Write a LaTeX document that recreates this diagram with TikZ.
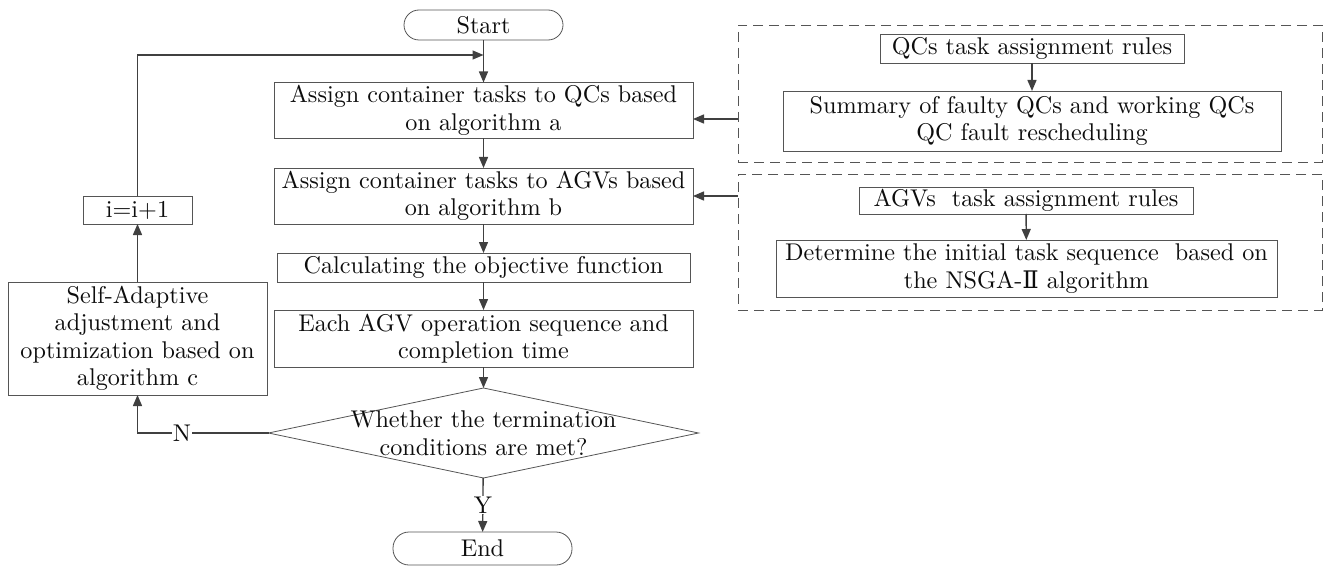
\documentclass[tikz,border=0pt]{standalone}
\usepackage{fontspec}
\usetikzlibrary{arrows.meta,shapes.geometric,calc}
\setmainfont{lmroman10-regular.otf}
\newfontfamily\romfont{DejaVu Serif}
\definecolor{linegray}{RGB}{64,64,64}
\definecolor{boxgray}{RGB}{85,85,85}
\tikzset{every picture/.style={line width=0.75pt}}
\tikzset{
  txt/.style={font=\fontsize{24.2}{27.5}\selectfont, text=black!95, align=center},
  proc/.style={txt, draw=boxgray, line width=0.8pt, inner sep=0pt, outer sep=0pt},
  term/.style={proc, rounded corners=15pt},
  decide/.style={diamond, draw=boxgray, line width=0.8pt, inner sep=0pt, outer sep=0pt, minimum width=430pt, minimum height=90pt},
  dashbox/.style={draw=boxgray, line width=0.9pt, dash pattern=on 10pt off 6pt, inner sep=0pt, outer sep=0pt},
  arr/.style={draw=linegray, line width=1.4pt, -{Triangle[length=11pt,width=9pt]}},
  lbl/.style={txt, fill=white, inner sep=1pt}
}

\begin{document}
\begin{tikzpicture}[x=1pt,y=1pt,yscale=-1]
	\useasboundingbox (0,0) rectangle (1325,567);
	
	% main column
	\node[term, minimum width=159pt, minimum height=30pt] (start) at (483.5,25) {Start};
	\node[proc, minimum width=419pt, minimum height=56pt] (qcs) at (483.5,110.5) {Assign container tasks to QCs based\\on algorithm a};
	\node[proc, minimum width=419pt, minimum height=56pt] (agvs) at (483.5,196) {Assign container tasks to AGVs based\\on algorithm b};
	\node[proc, minimum width=413pt, minimum height=29pt] (obj) at (483.5,267.5) {Calculating the objective function};
	\node[proc, minimum width=419pt, minimum height=57pt] (seq) at (483.5,338.5) {Each AGV operation sequence and\\completion time};
	\node[decide] (cond) at (483.5,433) {};
	\node[txt] (condtext) at (cond.center) {Whether the termination\\conditions are met?};
	\node[term, minimum width=179pt, minimum height=33pt, rounded corners=16pt] (end) at (482.5,548.5) {End};
	
	% loop on the left
	\node[proc, minimum width=109pt, minimum height=28pt] (inc) at (137.5,210) {i=i+1};
	\node[proc, minimum width=259pt, minimum height=113pt] (adapt) at (137.5,338.5) {Self-Adaptive\\adjustment and\\optimization based on\\algorithm c};
	\coordinate (back) at (483.5,55);
	
	% rule blocks on the right
	\node[dashbox, minimum width=584pt, minimum height=137pt] (qcrule) at (1030,93.5) {};
	\node[dashbox, minimum width=584pt, minimum height=136pt] (agvrule) at (1030,242) {};
	\node[proc, minimum width=304pt, minimum height=29pt] (qctask) at (1032,48.5) {QCs task assignment rules};
	\node[proc, minimum width=498pt, minimum height=60pt] (fault) at (1032,121) {Summary of faulty QCs and working QCs\\QC fault rescheduling};
	\node[proc, minimum width=334pt, minimum height=27pt] (agvtask) at (1026,200.5) {AGVs\ \ task assignment rules};
	\node[proc, minimum width=501pt, minimum height=57pt] (init) at (1026.5,268.5) {Determine the initial task sequence\ \ based on\\the NSGA-{\romfont Ⅱ} algorithm};
	
	% connectors
	\draw[arr] (start) -- (qcs);
	\draw[arr] (qcs) -- (agvs);
	\draw[arr] (agvs) -- (obj);
	\draw[arr] (obj) -- (seq);
	\draw[arr] (seq) -- (cond);
	\draw[arr] (cond) -- node[lbl] {Y} (end);
	\draw[arr] (cond.west) -- node[lbl, pos=0.66] {N} (adapt.south |- cond.west) -- (adapt.south);
	\draw[arr] (adapt) -- (inc);
	\draw[arr] (inc.north) |- (back);
	\draw[arr] (qctask) -- (fault);
	\draw[arr] (agvtask) -- (init);
	\draw[arr] ([yshift=8.5pt]qcrule.west |- qcs.east) -- ([yshift=8.5pt]qcs.east);
	\draw[arr] (agvrule.west |- agvs.east) -- (agvs.east);
\end{tikzpicture}
\end{document}
